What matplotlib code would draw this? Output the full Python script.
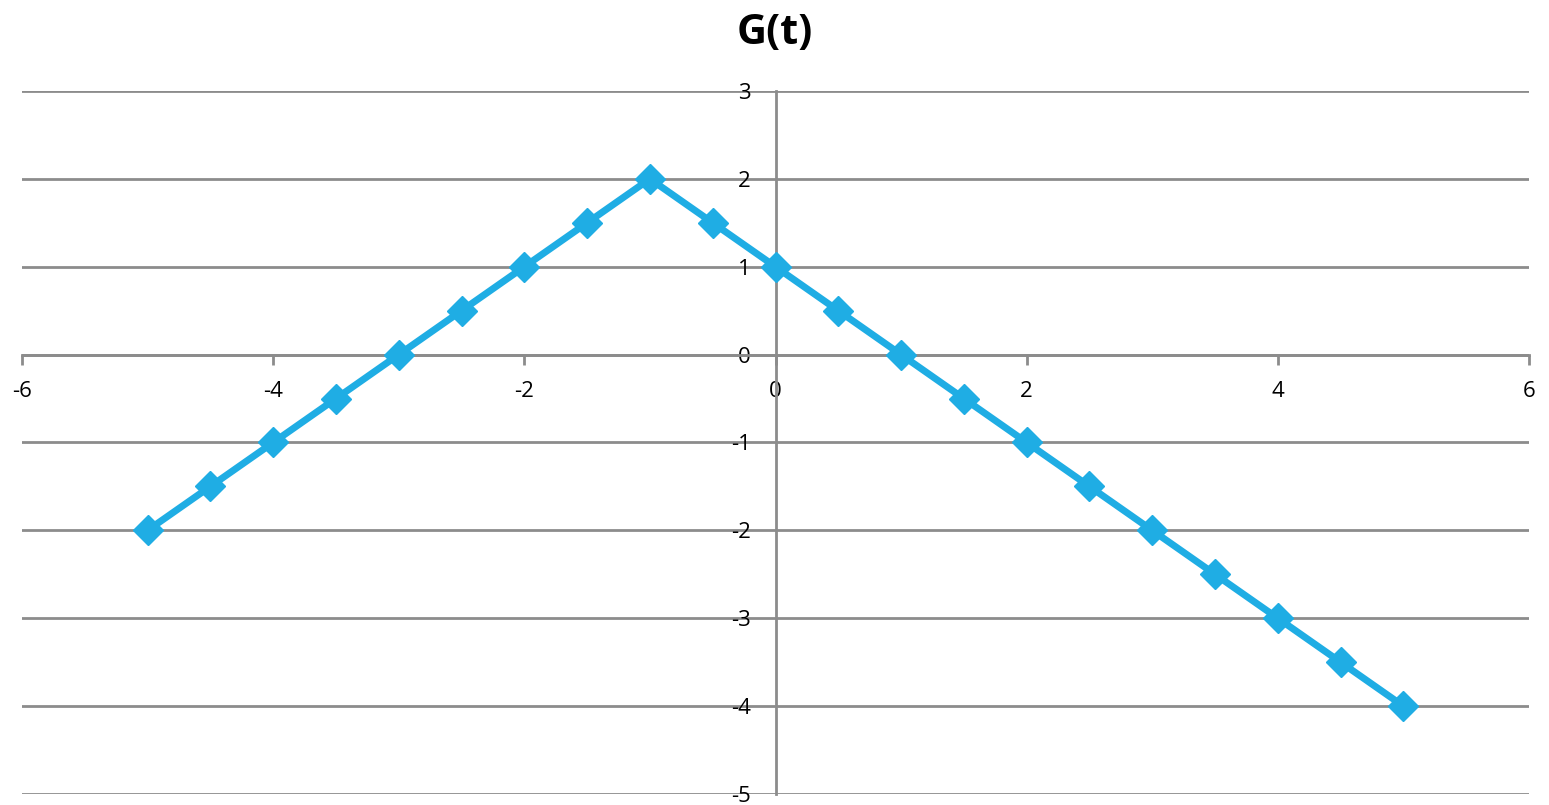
import matplotlib.pyplot as plt

t_vals = [-5, -4.5, -4, -3.5, -3, -2.5, -2, -1.5, -1, -0.5, 0,
          0.5, 1, 1.5, 2, 2.5, 3, 3.5, 4, 4.5, 5]
g_vals = [-2, -1.5, -1, -0.5, 0, 0.5, 1, 1.5, 2, 1.5, 1,
          0.5, 0, -0.5, -1, -1.5, -2, -2.5, -3, -3.5, -4]
x_ticks = [-6, -4, -2, 0, 2, 4, 6]
y_ticks = [-5, -4, -3, -2, -1, 0, 1, 2, 3]

plt.rcParams['font.family'] = ['Open Sans', 'DejaVu Sans']
plt.rcParams['axes.unicode_minus'] = False
axis_gray = '#8c8c8c'
line_blue = '#1fade4'

fig = plt.figure(figsize=(15.49, 8.05), dpi=100)
ax = fig.add_axes([22 / 1549, 11 / 805, 1507 / 1549, 703 / 805])

ax.plot(t_vals, g_vals, color=line_blue, linewidth=5, marker='D',
        markersize=15, markerfacecolor=line_blue, markeredgecolor=line_blue,
        zorder=3, clip_on=False)

ax.set_xlim(-6, 6)
ax.set_ylim(-5, 3)
ax.set_xticks(x_ticks)
ax.set_yticks(y_ticks)

# gridlines
for y in y_ticks:
    ax.axhline(y, color=axis_gray, linewidth=2, zorder=1)

# axes cross at origin
ax.spines['left'].set_position(('data', 0))
ax.spines['bottom'].set_position(('data', 0))
ax.spines['top'].set_visible(False)
ax.spines['right'].set_visible(False)
for s in ('left', 'bottom'):
    ax.spines[s].set_color(axis_gray)
    ax.spines[s].set_linewidth(2)
    ax.spines[s].set_zorder(2)

ax.tick_params(axis='x', direction='out', length=7, width=2, color=axis_gray,
               labelsize=16, pad=12)
ax.tick_params(axis='y', length=0, labelsize=16, pad=18)

fig.text(0.5, (805 - 34) / 805, 'G(t)', fontsize=30, fontweight='bold',
         ha='center', va='center')

fig.savefig('out.png', dpi=100)
